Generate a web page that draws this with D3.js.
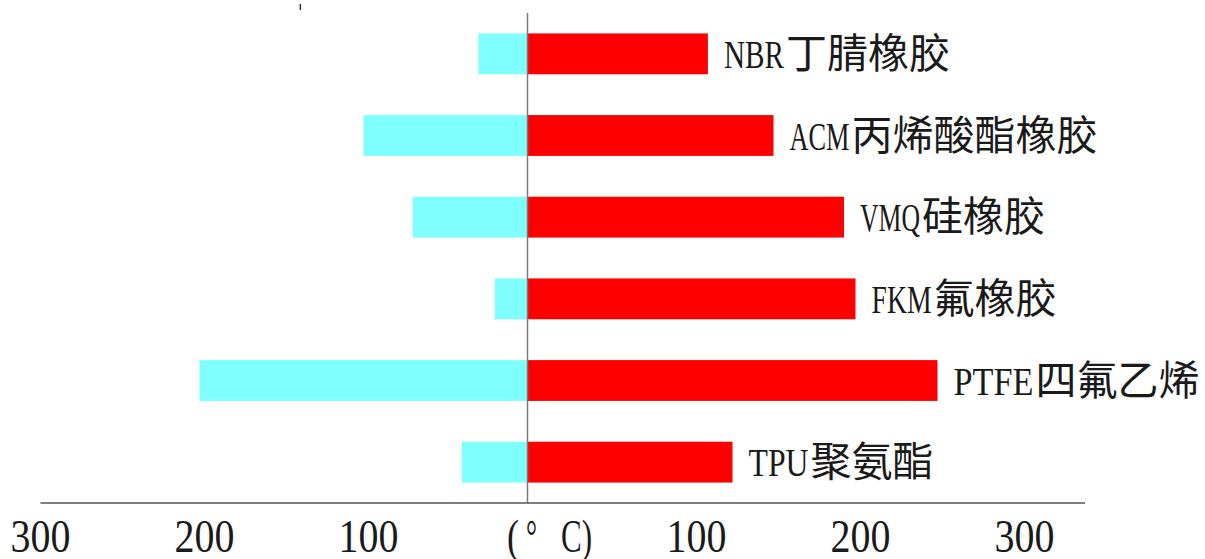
<!DOCTYPE html>
<html><head><meta charset="utf-8">
<script src="https://cdn.jsdelivr.net/npm/d3@7"></script>
<style>html,body{margin:0;padding:0;background:#fff;}svg{display:block;}</style>
</head><body>
<svg id="chart" width="1205" height="559"></svg>
<script>
const categories = ["NBR丁腈橡胶","ACM丙烯酸酯橡胶","VMQ硅橡胶","FKM氟橡胶","PTFE四氟乙烯","TPU聚氨酯"];
const latinParts = ["NBR","ACM","VMQ","FKM","PTFE","TPU"];
const cjkParts = ["丁腈橡胶","丙烯酸酯橡胶","硅橡胶","氟橡胶","四氟乙烯","聚氨酯"];
const minTemp = [-30,-100,-70,-20,-200,-40];
const maxTemp = [110,150,193,200,250,125];
const tickValues = [-300,-200,-100,0,100,200,300];
const tickLabels = ["300","200","100","(°  C)","100","200","300"];
const unitParts = ["(","°","C)"];

const svg = d3.select("#chart");
const x = d3.scaleLinear().domain([-300,300]).range([35.5,1019.5]);
const y = d3.scaleBand().domain(categories).range([13,503]).paddingInner(0.5).paddingOuter(0.25);

const rows = categories.map((c,i)=>({c, lo:minTemp[i], hi:maxTemp[i], lat:latinParts[i], cjk:cjkParts[i]}));

// cyan (min) bars
svg.append("g").selectAll("rect").data(rows).join("rect")
  .attr("x", d=>x(d.lo)).attr("y", d=>y(d.c))
  .attr("width", d=>x(0)-x(d.lo)).attr("height", y.bandwidth())
  .attr("fill","#80FFFF");
// red (max) bars
svg.append("g").selectAll("rect").data(rows).join("rect")
  .attr("x", x(0)).attr("y", d=>y(d.c))
  .attr("width", d=>x(d.hi)-x(0)).attr("height", y.bandwidth())
  .attr("fill","#FF0000");

// zero line
svg.append("line").attr("x1",x(0)).attr("x2",x(0)).attr("y1",13).attr("y2",503)
  .attr("stroke","#7a7a7a").attr("stroke-width",1.5);

// small mark at top
svg.append("line").attr("x1",x(-138.5)).attr("x2",x(-138.5)).attr("y1",4).attr("y2",10)
  .attr("stroke","#333").attr("stroke-width",1.5);

// bottom axis
const axis = d3.axisBottom(x).tickValues(tickValues).tickSize(0)
  .tickFormat((d,i)=>tickLabels[i]);
const ax = svg.append("g").attr("transform","translate(0,503)").call(axis);
ax.select(".domain").remove();
ax.append("line").attr("x1",x(-297)).attr("x2",x(340)).attr("y1",0).attr("y2",0)
  .attr("stroke","#555").attr("stroke-width",1.6);
const tfont = "'Liberation Serif', serif";
ax.selectAll(".tick text")
  .attr("font-family",tfont).attr("font-size",47)
  .attr("fill","#1a1a1a").attr("y",49).attr("dy",0)
  .attr("text-anchor","middle").attr("x",4.5)
  .attr("textLength",60).attr("lengthAdjust","spacingAndGlyphs");
// unit label at zero: split into parts spaced like the reference
const zeroTick = ax.selectAll(".tick").filter(d=>d===0);
zeroTick.select("text").remove();
const unitX = [-21, -2, 33];
const unitW = [12, 11, 31];
zeroTick.selectAll("text.unit").data(unitParts).join("text")
  .attr("class","unit")
  .attr("font-family",tfont).attr("font-size",47).attr("fill","#1a1a1a")
  .attr("y",49).attr("text-anchor","start")
  .attr("x",(d,i)=>unitX[i])
  .attr("textLength",(d,i)=>unitW[i]).attr("lengthAdjust","spacingAndGlyphs")
  .text(d=>d);

// labels
const latinW = 20, cjkSize = 41;
const lab = svg.append("g").selectAll("g").data(rows).join("g")
  .attr("transform", d=>`translate(${x(d.hi)+16},${y(d.c)+y.bandwidth()/2+14})`);
lab.append("text")
  .attr("font-family",tfont).attr("font-size",39).attr("fill","#1a1a1a")
  .attr("textLength", d=>d.lat.length*latinW).attr("lengthAdjust","spacingAndGlyphs")
  .text(d=>d.lat);
lab.append("text")
  .attr("x", d=>d.lat.length*latinW+2)
  .attr("font-family","'Noto Sans CJK SC', sans-serif").attr("font-size",cjkSize).attr("fill","#1a1a1a")
  .text(d=>d.cjk);
</script>
</body></html>
